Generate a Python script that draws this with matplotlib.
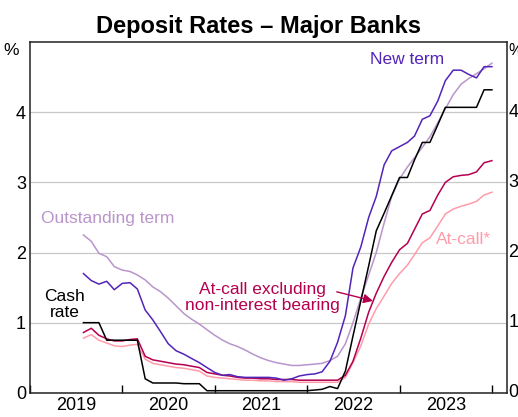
import pandas as pd
import matplotlib
matplotlib.use('Agg')
import matplotlib.pyplot as plt
import numpy as np

plt.rcParams['font.family'] = ['Liberation Sans', 'DejaVu Sans']

# monthly, Jul 2019 - Dec 2023 (month end)
dates = pd.date_range("2019-07-31", periods=54, freq="ME")

cash = [1.00, 1.00, 1.00, 0.75, 0.75, 0.75, 0.75, 0.75, 0.20, 0.14,
        0.14, 0.14, 0.14, 0.13, 0.13, 0.13, 0.03, 0.03, 0.03, 0.03,
        0.03, 0.03, 0.03, 0.03, 0.03, 0.03, 0.03, 0.03, 0.03, 0.03,
        0.04, 0.05, 0.09, 0.06, 0.31, 0.81, 1.31, 1.81, 2.31, 2.56,
        2.81, 3.07, 3.07, 3.32, 3.57, 3.57, 3.82, 4.07, 4.07, 4.07,
        4.07, 4.07, 4.32, 4.32]

new_term = [1.70, 1.60, 1.55, 1.59, 1.47, 1.56, 1.57, 1.48, 1.18, 1.04,
            0.87, 0.70, 0.60, 0.55, 0.49, 0.43, 0.36, 0.29, 0.25, 0.26,
            0.23, 0.22, 0.22, 0.22, 0.22, 0.21, 0.18, 0.20, 0.24, 0.26,
            0.27, 0.30, 0.45, 0.72, 1.10, 1.78, 2.08, 2.50, 2.80, 3.25,
            3.45, 3.51, 3.57, 3.66, 3.90, 3.95, 4.16, 4.45, 4.60, 4.60,
            4.54, 4.49, 4.65, 4.65]

outstanding = [2.25, 2.16, 1.99, 1.94, 1.80, 1.75, 1.73, 1.68, 1.61, 1.51,
               1.44, 1.35, 1.24, 1.13, 1.05, 0.98, 0.90, 0.82, 0.75, 0.70,
               0.66, 0.61, 0.55, 0.50, 0.46, 0.43, 0.41, 0.39, 0.39, 0.40,
               0.41, 0.42, 0.46, 0.52, 0.70, 1.00, 1.35, 1.68, 2.00, 2.42,
               2.80, 3.05, 3.22, 3.35, 3.50, 3.65, 3.85, 4.05, 4.25, 4.40,
               4.48, 4.55, 4.62, 4.70]

atcall_ex = [0.86, 0.92, 0.82, 0.77, 0.74, 0.74, 0.76, 0.77, 0.52, 0.47,
             0.45, 0.43, 0.41, 0.40, 0.38, 0.36, 0.29, 0.27, 0.25, 0.24,
             0.22, 0.21, 0.21, 0.20, 0.20, 0.19, 0.19, 0.19, 0.18, 0.18,
             0.18, 0.18, 0.18, 0.18, 0.25, 0.45, 0.78, 1.15, 1.42, 1.66,
             1.86, 2.04, 2.13, 2.33, 2.55, 2.60, 2.82, 3.00, 3.08, 3.10,
             3.11, 3.15, 3.28, 3.31]

atcall = [0.78, 0.83, 0.75, 0.71, 0.67, 0.66, 0.68, 0.69, 0.48, 0.42,
          0.40, 0.38, 0.36, 0.35, 0.33, 0.31, 0.24, 0.22, 0.21, 0.20,
          0.19, 0.18, 0.18, 0.17, 0.17, 0.16, 0.16, 0.16, 0.15, 0.15,
          0.15, 0.15, 0.15, 0.15, 0.22, 0.43, 0.67, 0.98, 1.20, 1.38,
          1.56, 1.70, 1.82, 1.97, 2.14, 2.21, 2.38, 2.55, 2.62, 2.66,
          2.69, 2.73, 2.82, 2.86]

years = [2019, 2020, 2021, 2022, 2023]

C_NEW = "#5324B8"
C_OUT = "#B995CB"
C_EX = "#B5004F"
C_AC = "#FF9CAA"

fig = plt.figure(figsize=(5.18, 4.17), dpi=100)
ax = fig.add_axes([0.058, 0.058, 0.920, 0.841])

lw = 1.1
ax.plot(dates, outstanding, color=C_OUT, lw=lw)
ax.plot(dates, atcall, color=C_AC, lw=lw)
ax.plot(dates, atcall_ex, color=C_EX, lw=lw)
ax.plot(dates, new_term, color=C_NEW, lw=lw)
ax.plot(dates, cash, color="black", lw=lw)

ax.set_ylim(0, 5)
ax.set_xlim(pd.Timestamp("2019-01-01"), pd.Timestamp("2024-02-27"))
ax.set_yticks([0, 1, 2, 3, 4])
ax.grid(axis="y", color="#c8c8c8", lw=0.9)
ax.set_axisbelow(True)
ax.tick_params(axis="y", length=0, labelsize=13, pad=3,
               left=True, right=True, labelleft=True, labelright=False)
for y in [0, 1, 2, 3, 4]:
    ax.text(1.004, y / 5, str(y), transform=ax.transAxes, fontsize=13,
            ha="left", va="center", clip_on=False)

# year ticks at year start, labels mid-year
ax.set_xticks([pd.Timestamp(f"{y}-01-01") for y in years + [2024]])
ax.set_xticklabels([])
ax.set_xticks([pd.Timestamp(f"{y}-07-02") for y in years], minor=True)
ax.set_xticklabels([str(y) for y in years], minor=True)
ax.tick_params(axis="x", which="major", direction="in", length=6, width=1, color="black")
ax.tick_params(axis="x", which="minor", length=0, labelsize=13, pad=3)

for s in ax.spines.values():
    s.set_linewidth(1.1)
    s.set_color("#222222")

ax.text(-0.023, 0.975, "%", transform=ax.transAxes, fontsize=12.5, ha="right", va="center")
ax.text(1.004, 0.975, "%", transform=ax.transAxes, fontsize=11.5, ha="left", va="center")

fig.text(0.5, 0.920, "Deposit Rates \u2013 Major Banks", fontsize=17, fontweight="bold",
         ha="center", va="baseline")

fs = 12.5
ax.text(pd.Timestamp("2023-01-30"), 4.75, "New term", color=C_NEW, fontsize=fs, ha="center", va="center")
ax.text(pd.Timestamp("2019-02-14"), 2.49, "Outstanding term", color=C_OUT, fontsize=fs, ha="left", va="center")
ax.text(pd.Timestamp("2019-05-18"), 1.26, "Cash\nrate", color="black", fontsize=fs, ha="center",
        va="center", linespacing=1.15)
ax.text(pd.Timestamp("2021-07-08"), 1.36, "At-call excluding\nnon-interest bearing", color=C_EX,
        fontsize=fs, ha="center", va="center", linespacing=1.15)
ax.text(pd.Timestamp("2023-09-10"), 2.18, "At-call*", color=C_AC, fontsize=fs, ha="center", va="center")

ax.annotate("", xy=(pd.Timestamp("2022-09-17"), 1.31), xytext=(pd.Timestamp("2022-04-27"), 1.44),
            arrowprops=dict(arrowstyle="-|>", color=C_EX, lw=1.0, mutation_scale=14,
                            shrinkA=0, shrinkB=0))

fig.savefig("out.png", dpi=100)
